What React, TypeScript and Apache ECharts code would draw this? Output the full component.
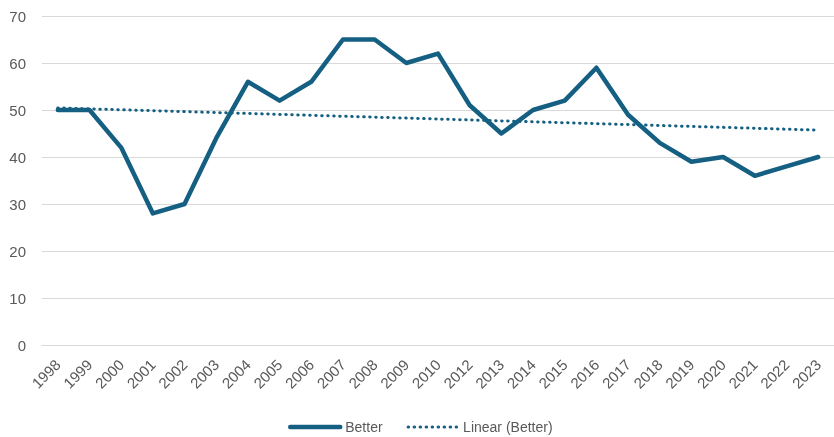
import React, { useEffect, useRef } from "react";
import * as echarts from "echarts";

const years = [
  "1998", "1999", "2000", "2001", "2002", "2003", "2004", "2005", "2006",
  "2007", "2008", "2009", "2010", "2012", "2013", "2014", "2015", "2016",
  "2017", "2018", "2019", "2020", "2021", "2022", "2023",
];
const better = [
  50, 50, 42, 28, 30, 44, 56, 52, 56, 65, 65, 60, 62, 51, 45, 50, 52, 59,
  49, 43, 39, 40, 36, 38, 40,
];

const BLUE = "#156082";
const GREY_TEXT = "#595959";
const GRID = "#d9d9d9";
const FONT = "Liberation Sans";

// Least-squares linear trend over the category index
function linearTrend(values: number[]): number[] {
  const n = values.length;
  const xs = values.map((_, i) => i + 1);
  const mx = xs.reduce((a, b) => a + b, 0) / n;
  const my = values.reduce((a, b) => a + b, 0) / n;
  let sxy = 0;
  let sxx = 0;
  for (let i = 0; i < n; i++) {
    sxy += (xs[i] - mx) * (values[i] - my);
    sxx += (xs[i] - mx) ** 2;
  }
  const slope = sxy / sxx;
  return xs.map((x) => +(my + slope * (x - mx)).toFixed(3));
}

const solidLine = { color: BLUE, width: 4.5, join: "round", cap: "round" };
const dottedLine = { color: BLUE, width: 3, type: [0.5, 5.5], cap: "round" };

export default function App() {
  const ref = useRef<HTMLDivElement>(null);

  useEffect(() => {
    if (!ref.current) return;
    const chart = echarts.init(ref.current, null, { renderer: "svg" });
    chart.setOption({
      animation: false,
      textStyle: { fontFamily: FONT },
      grid: { left: 42, top: 16, width: 797, height: 329, containLabel: false },
      legend: {
        left: 283,
        top: 415,
        itemWidth: 50,
        itemHeight: 14,
        itemGap: 24,
        itemStyle: { opacity: 0 },
        textStyle: { color: GREY_TEXT, fontSize: 14, fontFamily: FONT },
        data: [
          { name: "Better", lineStyle: solidLine },
          { name: "Linear (Better)", lineStyle: dottedLine },
        ],
      },
      xAxis: {
        type: "category",
        data: years,
        boundaryGap: true,
        axisLine: { show: true, lineStyle: { color: GRID, width: 1 } },
        axisTick: { show: false },
        axisLabel: {
          rotate: 45,
          interval: 0,
          color: GREY_TEXT,
          fontSize: 15,
          fontFamily: FONT,
          margin: 17,
        },
      },
      yAxis: {
        type: "value",
        min: 0,
        max: 70,
        interval: 10,
        axisLine: { show: false },
        axisTick: { show: false },
        splitLine: { lineStyle: { color: GRID, width: 1 } },
        axisLabel: { color: GREY_TEXT, fontSize: 15, fontFamily: FONT, margin: 16 },
      },
      series: [
        {
          name: "Better",
          type: "line",
          data: better,
          symbol: "none",
          lineStyle: solidLine,
          itemStyle: { color: BLUE },
          z: 3,
        },
        {
          name: "Linear (Better)",
          type: "line",
          data: linearTrend(better),
          symbol: "none",
          lineStyle: dottedLine,
          itemStyle: { color: BLUE },
          z: 4,
        },
      ],
    });
    return () => chart.dispose();
  }, []);

  return (
    <div
      ref={ref}
      style={{ position: "fixed", left: 0, top: 0, width: 834, height: 437 }}
    />
  );
}
